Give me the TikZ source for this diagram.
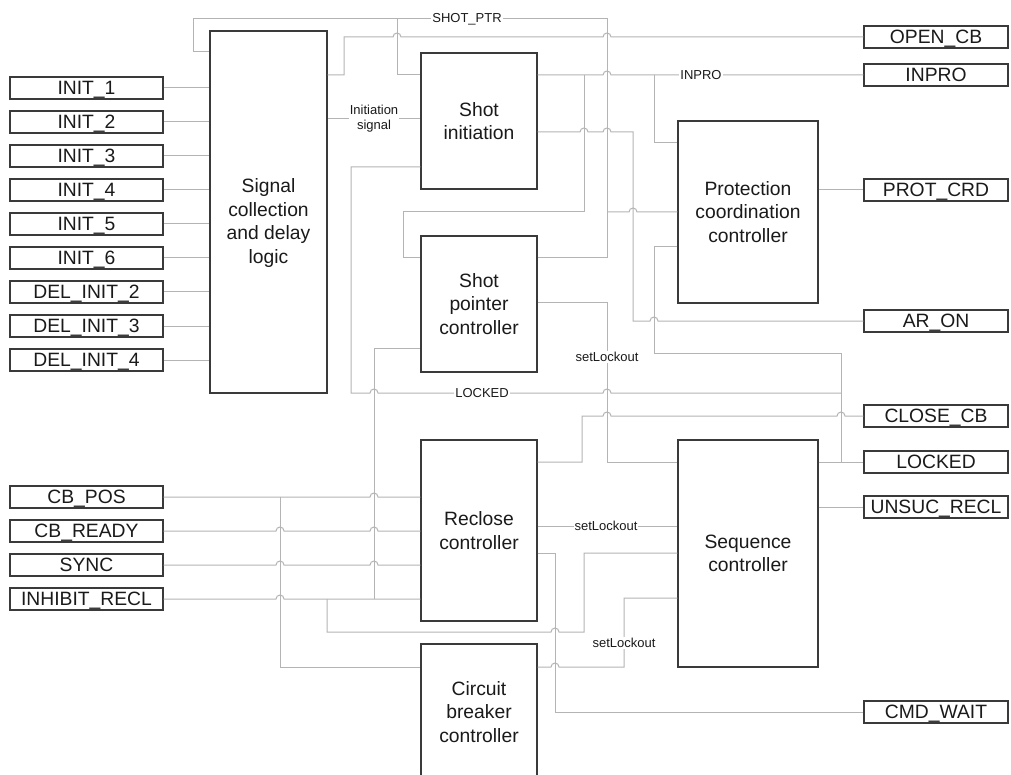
\documentclass[tikz,border=0pt]{standalone}
\usepackage{fontspec}
\setmainfont{Liberation Sans}
\definecolor{linegray}{HTML}{B4B4B4}
\definecolor{boxgray}{HTML}{3A3A3A}
\definecolor{txt}{HTML}{1A1A1A}
\newcommand{\hp}[2]{-- ({#1-4},#2) arc[start angle=180,end angle=0,radius=4pt]}
\begin{document}
\begin{tikzpicture}[x=1pt,y=-1pt,
  conn/.style={draw=linegray, line width=1pt},
  blk/.style={draw=boxgray, line width=1.3pt, inner sep=0pt, align=center, text=txt,
    font=\fontsize{19.3}{23.5}\selectfont},
  io/.style={draw=boxgray, line width=1.2pt, minimum height=22pt, inner sep=0pt, text=txt,
    text height=15pt, text depth=2pt,
    font=\fontsize{19.3}{22}\selectfont},
  lbl/.style={fill=white, inner sep=1pt, text=txt, align=center,
    font=\fontsize{13}{15}\selectfont}]
\useasboundingbox (0,0) rectangle (1011,775);
\fill[white] (0,0) rectangle (1011,775);

% blocks
\node[blk, minimum width=117pt, minimum height=362pt] (sig) at (268.5,212) {};
\node[text=txt, align=center, font=\fontsize{19.3}{23.5}\selectfont] (sigtxt) at (268.5,223) {Signal\\collection\\and delay\\logic};
\node[blk, minimum width=116pt, minimum height=136pt] (shi) at (479,121) {Shot\\initiation};
\node[blk, minimum width=116pt, minimum height=136pt] (spc) at (479,304) {Shot\\pointer\\controller};
\node[blk, minimum width=140pt, minimum height=182pt] (pcc) at (748,212) {Protection\\coordination\\controller};
\node[blk, minimum width=116pt, minimum height=181pt] (rcl) at (479,530.5) {Reclose\\controller};
\node[blk, minimum width=140pt, minimum height=227pt] (seq) at (748,553.5) {Sequence\\controller};
\node[blk, minimum width=116pt, minimum height=136pt] (cbc) at (479,712) {Circuit\\breaker\\controller};

% left inputs
\foreach \n/\t/\yy in {i1/INIT\_1/88, i2/INIT\_2/122, i3/INIT\_3/156, i4/INIT\_4/190,
  i5/INIT\_5/224, i6/INIT\_6/258, d2/DEL\_INIT\_2/292, d3/DEL\_INIT\_3/326, d4/DEL\_INIT\_4/360}{
  \node[io, minimum width=153pt] (\n) at (86.5,\yy) {\t};
  \draw[conn] (\n.east) -- (sig.west |- \n.east);
}
\node[io, minimum width=153pt] (cbpos) at (86.5,497) {CB\_POS};
\node[io, minimum width=153pt] (cbready) at (86.5,531) {CB\_READY};
\node[io, minimum width=153pt] (sync) at (86.5,565) {SYNC};
\node[io, minimum width=153pt] (inhib) at (86.5,599) {INHIBIT\_RECL};

% right outputs
\node[io, minimum width=144pt] (opencb) at (936,37) {OPEN\_CB};
\node[io, minimum width=144pt] (inpro) at (936,75) {INPRO};
\node[io, minimum width=144pt] (protcrd) at (936,190) {PROT\_CRD};
\node[io, minimum width=144pt] (aron) at (936,321) {AR\_ON};
\node[io, minimum width=144pt] (closecb) at (936,416) {CLOSE\_CB};
\node[io, minimum width=144pt] (lockedo) at (936,462) {LOCKED};
\node[io, minimum width=144pt] (unsuc) at (936,507) {UNSUC\_RECL};
\node[io, minimum width=144pt] (cmdwait) at (936,712) {CMD\_WAIT};

% SHOT_PTR
\draw[conn] (spc.east |- 0,258) -- (607,258) -- (607,19) -- (193,19) -- (193,52) -- (sig.west |- 0,52);
\draw[conn] (397,19) -- (397,75) -- (shi.west |- 0,75);
\draw[conn] (607,212) \hp{633}{212} -- (pcc.west |- 0,212);
\node[lbl] (lshot) at (467,19) {SHOT\_PTR};

% OPEN_CB
\draw[conn] (sig.east |- 0,75) -- (344,75) -- (344,37) \hp{397}{37} \hp{607}{37} -- (opencb.west);

% Initiation signal
\draw[conn] (sig.east |- 0,119) -- (shi.west |- 0,119);
\node[lbl] (linit) at (374,119) {Initiation\\signal};

% INPRO
\draw[conn] (shi.east |- 0,75) \hp{607}{75} -- (inpro.west);
\draw[conn] (584,75) -- (584,212) -- (403,212) -- (403,258) -- (spc.west |- 0,258);
\draw[conn] (654,75) -- (654,143) -- (pcc.west |- 0,143);
\node[lbl] (linpro) at (701,75) {INPRO};

% AR_ON
\draw[conn] (shi.east |- 0,132) \hp{584}{132} \hp{607}{132} -- (633,132) -- (633,321) \hp{654}{321} -- (aron.west);

% PROT_CRD
\draw[conn] (pcc.east |- 0,190) -- (protcrd.west);

% LOCKED
\draw[conn] (shi.west |- 0,167) -- (351,167) -- (351,393) \hp{374}{393} \hp{607}{393} -- (841,393);
\draw[conn] (pcc.west |- 0,247) -- (654,247) -- (654,353) -- (841,353) -- (841,462);
\draw[conn] (seq.east |- 0,462) -- (lockedo.west);
\node[lbl] (llocked) at (482,393) {LOCKED};

% setLockout shot pointer -> sequence
\draw[conn] (spc.east |- 0,303) -- (607,303) -- (607,462) -- (seq.west |- 0,462);
\node[lbl] (lset1) at (607,357) {setLockout};

% CLOSE_CB
\draw[conn] (rcl.east |- 0,462) -- (582,462) -- (582,416) \hp{607}{416} \hp{841}{416} -- (closecb.west);

% setLockout reclose -> sequence
\draw[conn] (rcl.east |- 0,526) -- (seq.west |- 0,526);
\node[lbl] (lset2) at (606,526) {setLockout};

% UNSUC_RECL
\draw[conn] (seq.east |- 0,507) -- (unsuc.west);

% CMD_WAIT
\draw[conn] (rcl.east |- 0,553) -- (555,553) -- (555,712) -- (cmdwait.west);

% inputs to reclose
\draw[conn] (cbpos.east) \hp{374}{497} -- (rcl.west |- cbpos.east);
\draw[conn] (cbready.east) \hp{280}{531} \hp{374}{531} -- (rcl.west |- cbready.east);
\draw[conn] (sync.east) \hp{280}{565} \hp{374}{565} -- (rcl.west |- sync.east);
\draw[conn] (inhib.east) \hp{280}{599} -- (rcl.west |- inhib.east);

% INHIBIT -> sequence
\draw[conn] (327,599) -- (327,632) \hp{555}{632} -- (584,632) -- (584,553) -- (seq.west |- 0,553);
% INHIBIT -> shot pointer
\draw[conn] (374,599) -- (374,348) -- (spc.west |- 0,348);
% CB_POS -> circuit breaker
\draw[conn] (280,497) -- (280,667) -- (cbc.west |- 0,667);
% circuit breaker -> sequence
\draw[conn] (cbc.east |- 0,667) \hp{555}{667} -- (624,667) -- (624,598) -- (seq.west |- 0,598);
\node[lbl] (lset3) at (624,643) {setLockout};
\end{tikzpicture}
\end{document}
